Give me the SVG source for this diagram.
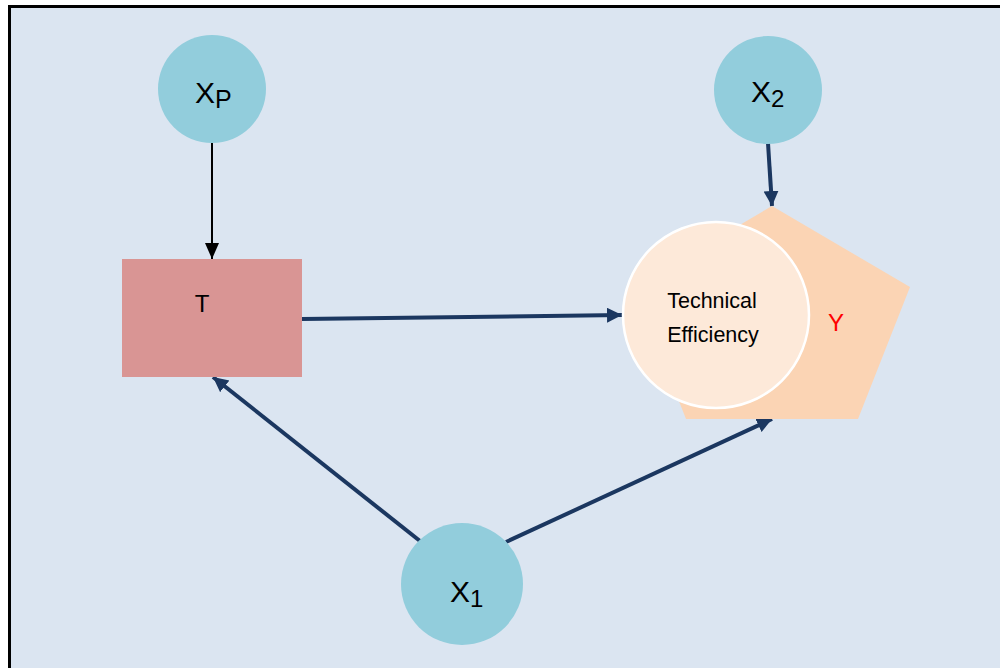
<svg xmlns="http://www.w3.org/2000/svg" width="1000" height="668" viewBox="0 0 1000 668">
<style>
.bg{fill:#DBE5F1;stroke:#000;stroke-width:3}
.var{fill:#92CDDC}
.lbl{font-family:"Liberation Sans",Arial,sans-serif;fill:#000}
.navy{stroke:#1B3760;stroke-width:4;fill:none}
.blk{stroke:#000;stroke-width:2;fill:none}
</style>
<defs>
<marker id="an" markerUnits="userSpaceOnUse" markerWidth="16" markerHeight="16" refX="15" refY="7.5" orient="auto">
<path d="M0,0 L15,7.5 L0,15 Z" fill="#1B3760"/>
</marker>
<marker id="ab" markerUnits="userSpaceOnUse" markerWidth="16" markerHeight="16" refX="16" refY="7" orient="auto">
<path d="M0,0 L16,7 L0,14 Z" fill="#000"/>
</marker>
</defs>
<rect x="0" y="0" width="1000" height="668" fill="#fff"/>
<rect class="bg" x="9.5" y="6.5" width="1000" height="670"/>
<g id="connectors">
<line class="blk" x1="212" y1="143" x2="212" y2="259" marker-end="url(#ab)"/>
<line class="navy" x1="302" y1="319" x2="622" y2="315" marker-end="url(#an)"/>
<line class="navy" x1="768" y1="143" x2="772" y2="206" marker-end="url(#an)"/>
<line class="navy" x1="420" y1="541" x2="213" y2="377" marker-end="url(#an)"/>
<line class="navy" x1="506" y1="542" x2="772" y2="419" marker-end="url(#an)"/>
</g>
<g id="node-xp">
<circle class="var" cx="212" cy="89" r="54"/>
<text class="lbl" x="195" y="103" font-size="30">X<tspan font-size="25" dy="5">P</tspan></text>
</g>
<g id="node-x2">
<circle class="var" cx="768" cy="90" r="54"/>
<text class="lbl" x="751" y="102" font-size="30">X<tspan font-size="24" dy="5">2</tspan></text>
</g>
<g id="node-x1">
<circle class="var" cx="462" cy="584" r="61"/>
<text class="lbl" x="450" y="602" font-size="30">X<tspan font-size="24" dy="5">1</tspan></text>
</g>
<g id="node-t">
<rect x="122" y="259" width="180" height="118" fill="#D99594"/>
<text class="lbl" x="202" y="312" font-size="24" text-anchor="middle">T</text>
</g>
<g id="node-y">
<polygon points="772,206 910,287 858,419 686,419 634,287" fill="#FBD4B4"/>
<text x="836" y="331" font-size="24" text-anchor="middle" font-family="Liberation Sans,Arial,sans-serif" fill="#FF0000">Y</text>
</g>
<g id="node-te">
<circle cx="716" cy="315" r="93" fill="#FDE9D9" stroke="#fff" stroke-width="2.5"/>
<text class="lbl" x="712" y="308" font-size="21.5" text-anchor="middle">Technical</text>
<text class="lbl" x="713" y="342" font-size="21.5" text-anchor="middle">Efficiency</text>
</g>
</svg>
